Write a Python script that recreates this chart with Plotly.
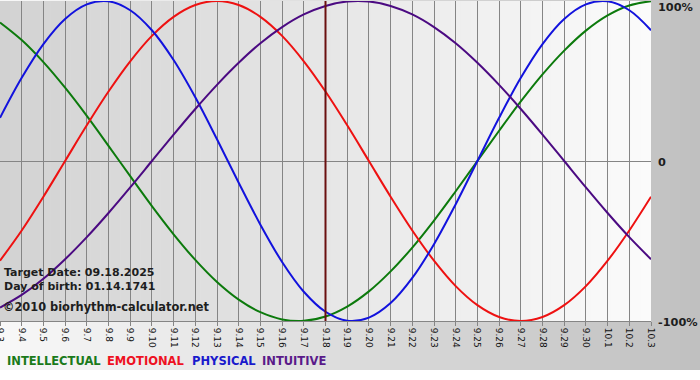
import plotly.graph_objects as go

# ---------------- data ----------------
dates = ["9.3", "9.4", "9.5", "9.6", "9.7", "9.8", "9.9", "9.10", "9.11", "9.12",
         "9.13", "9.14", "9.15", "9.16", "9.17", "9.18", "9.19", "9.20", "9.21",
         "9.22", "9.23", "9.24", "9.25", "9.26", "9.27", "9.28", "9.29", "9.30",
         "10.1", "10.2", "10.3"]

intellectual = [86.6, 75.6, 61.8, 45.8, 28.2, 9.5, -9.5, -28.2, -45.8, -61.8, -75.6,
                -86.6, -94.5, -99.0, -99.9, -97.2, -91.0, -81.5, -69.0, -54.1, -37.2,
                -18.9, 0.0, 18.9, 37.2, 54.1, 69.0, 81.5, 91.0, 97.2, 99.9]
emotional = [-62.3, -43.4, -22.3, 0.0, 22.3, 43.4, 62.3, 78.2, 90.1, 97.5, 100.0,
             97.5, 90.1, 78.2, 62.3, 43.4, 22.3, 0.0, -22.3, -43.4, -62.3, -78.2,
             -90.1, -97.5, -100.0, -97.5, -90.1, -78.2, -62.3, -43.4, -22.3]
physical = [27.0, 52.0, 73.1, 88.8, 97.9, 99.8, 94.2, 81.7, 63.1, 39.8, 13.6,
            -13.6, -39.8, -63.1, -81.7, -94.2, -99.8, -97.9, -88.8, -73.1, -52.0,
            -27.0, 0.0, 27.0, 52.0, 73.1, 88.8, 97.9, 99.8, 94.2, 81.7]
intuitive = [-91.6, -83.7, -73.6, -61.4, -47.6, -32.5, -16.5, 0.0, 16.5, 32.5, 47.6,
             61.4, 73.6, 83.7, 91.6, 96.9, 99.7, 99.7, 96.9, 91.6, 83.7, 73.6,
             61.4, 47.6, 32.5, 16.5, 0.0, -16.5, -32.5, -47.6, -61.4]

target_date = "9.18"
info_lines = ["Target Date: 09.18.2025", "Day of birth: 01.14.1741"]
copyright_text = "©2010 biorhythm-calculator.net"
y_tick_vals = [100, 0, -100]
y_tick_text = ["100%", "0", "-100%"]

series = [
    ("INTELLECTUAL", intellectual, "#0c7a0c", "#1a7a1a"),
    ("EMOTIONAL", emotional, "#ee1111", "#ee1122"),
    ("PHYSICAL", physical, "#1212dd", "#1a1acc"),
    ("INTUITIVE", intuitive, "#4b0a82", "#5a1a8a"),
]

# ---------------- layout geometry ----------------
W, H = 700, 380
ML, MR, MT, MB = 0, 49, 1, 59
PW = W - ML - MR
PH = H - MT - MB


def px2paper_x(px):
    return (px - ML) / PW


def py2paper_y(py):
    return (H - MB - py) / PH


x_idx = list(range(len(dates)))

fig = go.Figure()
for name, vals, col, _ in series:
    fig.add_trace(go.Scatter(x=x_idx, y=vals, mode="lines", name=name,
                             line=dict(color=col, width=2, shape="spline"),
                             hoverinfo="skip"))

shapes = []
# outer background gradient (light left -> gray right)
n_out = 70
for i in range(n_out):
    x0 = W * i / n_out
    x1 = W * (i + 1) / n_out
    v = int(round(248 - 56 * ((x0 + x1) / 2) / W))
    shapes.append(dict(type="rect", xref="paper", yref="paper",
                       x0=px2paper_x(x0), x1=px2paper_x(x1 + 0.5),
                       y0=py2paper_y(370), y1=py2paper_y(0),
                       fillcolor=f"rgb({v},{v},{v})", line=dict(width=0),
                       layer="below"))
# plot area gradient (gray left -> light right)
n_in = 65
for i in range(n_in):
    x0 = PW * i / n_in
    x1 = PW * (i + 1) / n_in
    v = int(round(210 + 41 * ((x0 + x1) / 2) / PW))
    shapes.append(dict(type="rect", xref="paper", yref="paper",
                       x0=x0 / PW, x1=min(1.0, (x1 + 0.5) / PW), y0=0, y1=1,
                       fillcolor=f"rgb({v},{v},{v})", line=dict(width=0),
                       layer="below"))
# target date line
ti = dates.index(target_date)
shapes.append(dict(type="line", xref="x", yref="paper", x0=ti, x1=ti, y0=0, y1=1,
                   line=dict(color="#6a1010", width=2), layer="above"))

annotations = []
txt_font = dict(family="DejaVu Sans", size=11, color="#1e1e1e", weight="bold")
for line_txt, cy in zip(info_lines, [272.5, 286.5]):
    annotations.append(dict(text=line_txt, xref="paper", yref="paper",
                            x=px2paper_x(2), y=py2paper_y(cy), xanchor="left",
                            yanchor="middle", showarrow=False, font=txt_font))
annotations.append(dict(text=copyright_text, xref="paper", yref="paper",
                        x=px2paper_x(1), y=py2paper_y(306.5), xanchor="left",
                        yanchor="middle", showarrow=False,
                        font=dict(family="DejaVu Sans", size=11.4, color="#1e1e1e",
                                  weight="bold")))
# y tick labels on the right
for val, lab, cy in zip(y_tick_vals, y_tick_text, [7, 162, 322]):
    annotations.append(dict(text=lab, xref="paper", yref="paper",
                            x=px2paper_x(656), y=py2paper_y(cy), xanchor="left",
                            yanchor="middle", showarrow=False,
                            font=dict(family="DejaVu Sans", size=11.3, color="#1e1e1e",
                                      weight="bold")))
# legend row
for (name, _, _, tcol), lx in zip(series, [5, 105, 190, 260]):
    annotations.append(dict(text=name, xref="paper", yref="paper",
                            x=px2paper_x(lx), y=py2paper_y(361), xanchor="left",
                            yanchor="middle", showarrow=False,
                            font=dict(family="DejaVu Sans", size=11.5, color=tcol,
                                      weight="bold")))

fig.update_layout(
    width=W, height=H,
    margin=dict(l=ML, r=MR, t=MT, b=MB, pad=0),
    paper_bgcolor="white",
    plot_bgcolor="rgba(0,0,0,0)",
    showlegend=False,
    shapes=shapes,
    annotations=annotations,
    xaxis=dict(range=[0, len(dates) - 1], tickmode="array", tickvals=x_idx,
               ticktext=dates, tickangle=90, showgrid=True, gridcolor="#858585",
               gridwidth=1, ticks="outside", ticklen=4, tickcolor="#858585",
               tickfont=dict(family="DejaVu Sans", size=9, color="#111111"),
               ticklabeloverflow="allow",
               showline=True, linecolor="#858585", linewidth=1, zeroline=False,
               automargin=False, fixedrange=True),
    yaxis=dict(range=[-100, 100], tickvals=y_tick_vals, showticklabels=False,
               showgrid=False, zeroline=True, zerolinecolor="#858585",
               zerolinewidth=1, automargin=False, fixedrange=True),
)

fig.write_html("out.html",
               config=dict(displayModeBar=False, staticPlot=True),
               post_script="document.body.style.margin='0px';"
                           "document.body.style.padding='0px';")
